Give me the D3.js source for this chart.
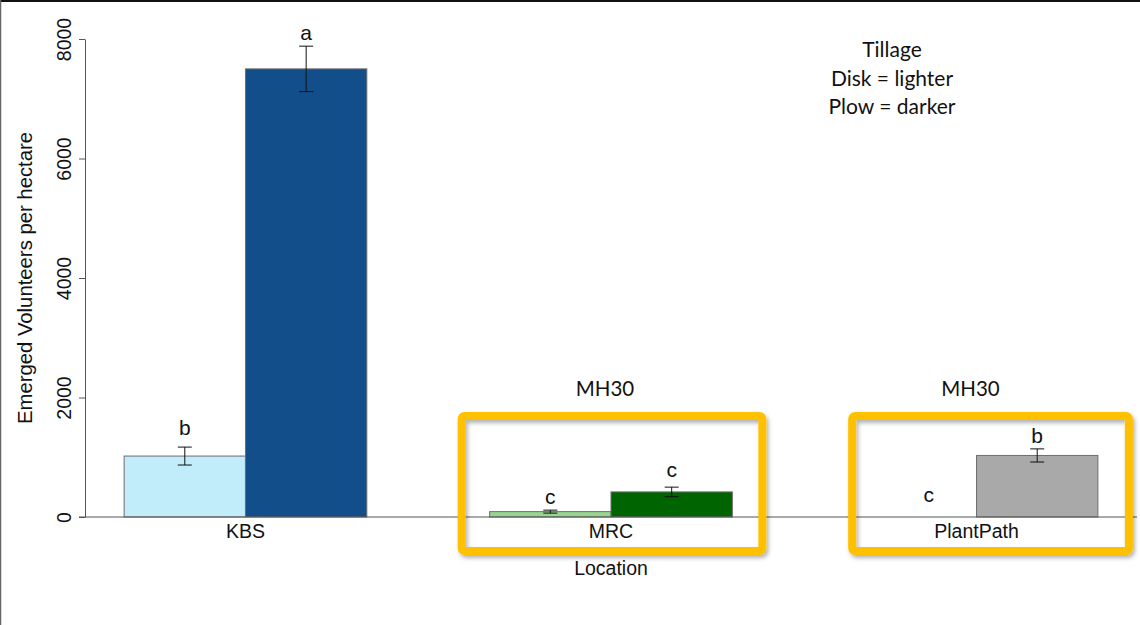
<!DOCTYPE html>
<html>
<head>
<meta charset="utf-8">
<script src="https://cdn.jsdelivr.net/npm/d3@7"></script>
<style>
  html, body { margin: 0; padding: 0; background: #fff; }
  svg { display: block; }
</style>
</head>
<body>
<svg id="chart" width="1140" height="625"></svg>
<script>
// Emerged volunteer counts by location and tillage (mean ± SE)
const locations = ["KBS", "MRC", "PlantPath"];
const tillage = ["Disk", "Plow"];
const diskMeans = [1020, 90, 0];
const plowMeans = [7500, 420, 1030];
const diskSE = [150, 25, 0];
const plowSE = [380, 80, 110];
const diskLetters = ["b", "c", "c"];
const plowLetters = ["a", "c", "b"];
const diskColors = ["#c1ecfa", "#97d68e", "#a9a9a9"];
const plowColors = ["#124e89", "#006400", "#a9a9a9"];
const yTicks = [0, 2000, 4000, 6000, 8000];
const highlighted = ["MRC", "PlantPath"];
const highlightLabel = "MH30";
const legendLines = ["Tillage", "Disk = lighter", "Plow = darker"];

const rows = [];
locations.forEach((loc, i) => {
  rows.push({loc, till: "Disk", mean: diskMeans[i], se: diskSE[i], letter: diskLetters[i], color: diskColors[i]});
  rows.push({loc, till: "Plow", mean: plowMeans[i], se: plowSE[i], letter: plowLetters[i], color: plowColors[i]});
});

const svg = d3.select("#chart");
const W = 1140, H = 625;

// slide frame
svg.append("line").attr("x1", 0).attr("x2", W).attr("y1", 1).attr("y2", 1)
  .attr("stroke", "#111").attr("stroke-width", 2);
svg.append("line").attr("x1", 0.5).attr("x2", 0.5).attr("y1", 0).attr("y2", H)
  .attr("stroke", "#666").attr("stroke-width", 1.5);

const plot = {left: 85, right: 1137, top: 39, bottom: 517};

const x = d3.scaleBand().domain(locations)
  .range([plot.left, plot.right]).paddingInner(0.336).paddingOuter(0.107);
const xt = d3.scaleBand().domain(tillage).range([0, x.bandwidth()]);
const y = d3.scaleLinear().domain([0, 8000]).range([plot.bottom, plot.top]);

const rFont = "'Liberation Sans', Arial, sans-serif";
const sFont = "Lato, 'Open Sans', sans-serif";

// drop shadow for highlight boxes
const defs = svg.append("defs");
const f = defs.append("filter").attr("id", "shadow")
  .attr("x", "-10%").attr("y", "-10%").attr("width", "120%").attr("height", "130%");
f.append("feDropShadow").attr("dx", 2).attr("dy", 3).attr("stdDeviation", 2)
  .attr("flood-color", "#000").attr("flood-opacity", 0.3);

// bars
svg.append("g").selectAll("rect").data(rows.filter(d => d.mean > 0)).join("rect")
  .attr("x", d => x(d.loc) + xt(d.till))
  .attr("y", d => y(d.mean))
  .attr("width", xt.bandwidth())
  .attr("height", d => y(0) - y(d.mean))
  .attr("fill", d => d.color)
  .attr("stroke", "#6e6e6e").attr("stroke-width", 1);

// error bars
const eb = svg.append("g").attr("stroke", "#111").attr("stroke-width", 1);
rows.filter(d => d.se > 0).forEach(d => {
  const cx = x(d.loc) + xt(d.till) + xt.bandwidth() / 2;
  const y1 = y(d.mean + d.se), y2 = y(d.mean - d.se);
  eb.append("line").attr("x1", cx).attr("x2", cx).attr("y1", y1).attr("y2", y2);
  [y1, y2].forEach(yy => eb.append("line")
    .attr("x1", cx - 7).attr("x2", cx + 7).attr("y1", yy).attr("y2", yy));
});

// significance letters
const letterGap = {"KBS-Disk": 12, "MRC-Plow": 10, "PlantPath-Disk": 15};
const letterShift = {"PlantPath-Disk": 13};
svg.append("g").selectAll("text").data(rows).join("text")
  .attr("x", d => x(d.loc) + xt(d.till) + xt.bandwidth() / 2 + (letterShift[d.loc + "-" + d.till] || 0))
  .attr("y", d => y(d.mean + d.se) - (letterGap[d.loc + "-" + d.till] || 6))
  .attr("text-anchor", "middle")
  .attr("font-family", rFont).attr("font-size", 21).attr("fill", "#111")
  .text(d => d.letter);

// y axis
const yAxis = svg.append("g").attr("transform", `translate(${plot.left},0)`)
  .call(d3.axisLeft(y).tickValues(yTicks).tickSize(6).tickSizeOuter(0).tickFormat(d3.format("d")));
yAxis.select(".domain").attr("stroke", "#555");
yAxis.selectAll(".tick line").attr("stroke", "#555");
yAxis.selectAll(".tick text")
  .attr("font-family", rFont).attr("font-size", 19.5).attr("fill", "#111")
  .attr("transform", "rotate(-90)")
  .attr("x", 0).attr("y", -14).attr("dy", 0)
  .attr("text-anchor", "middle");

// x baseline
svg.append("line").attr("x1", plot.left - 6).attr("x2", plot.right)
  .attr("y1", y(0)).attr("y2", y(0)).attr("stroke", "#555");

// category labels
svg.append("g").selectAll("text").data(locations).join("text")
  .attr("x", d => x(d) + x.bandwidth() / 2)
  .attr("y", y(0) + 21)
  .attr("text-anchor", "middle")
  .attr("font-family", rFont).attr("font-size", 19.5).attr("fill", "#111")
  .text(d => d);

// axis titles
svg.append("text").attr("x", x("MRC") + x.bandwidth() / 2).attr("y", 575)
  .attr("text-anchor", "middle").attr("font-family", rFont).attr("font-size", 19.5).attr("fill", "#111")
  .text("Location");
svg.append("text").attr("transform", `translate(32,${(plot.top + plot.bottom) / 2}) rotate(-90)`)
  .attr("text-anchor", "middle").attr("font-family", rFont).attr("font-size", 20.3).attr("fill", "#111")
  .text("Emerged Volunteers per hectare");

// highlight boxes around the MH30 sites
const boxPad = {left: 28, right: 30, top: 101, bottom: 34};
highlighted.forEach(loc => {
  const bx0 = x(loc) - boxPad.left + (loc === "PlantPath" ? 25 : 0);
  const bx1 = x(loc) + x.bandwidth() + boxPad.right + (loc === "PlantPath" ? 1 : 0);
  svg.append("rect")
    .attr("x", bx0).attr("y", y(0) - boxPad.top)
    .attr("width", bx1 - bx0).attr("height", boxPad.top + boxPad.bottom)
    .attr("rx", 3)
    .attr("fill", "none").attr("stroke", "#ffc000").attr("stroke-width", 8)
    .attr("filter", "url(#shadow)");
  svg.append("text")
    .attr("x", x(loc) + x.bandwidth() / 2 - 6).attr("y", 396)
    .attr("text-anchor", "middle").attr("font-family", sFont).attr("font-size", 20.5).attr("fill", "#111")
    .text(highlightLabel);
});

// tillage note
svg.append("g").selectAll("text").data(legendLines).join("text")
  .attr("x", 892).attr("y", (d, i) => 57 + i * 28.5)
  .attr("text-anchor", "middle").attr("font-family", sFont).attr("font-size", 21).attr("fill", "#111")
  .text(d => d);
</script>
</body>
</html>
